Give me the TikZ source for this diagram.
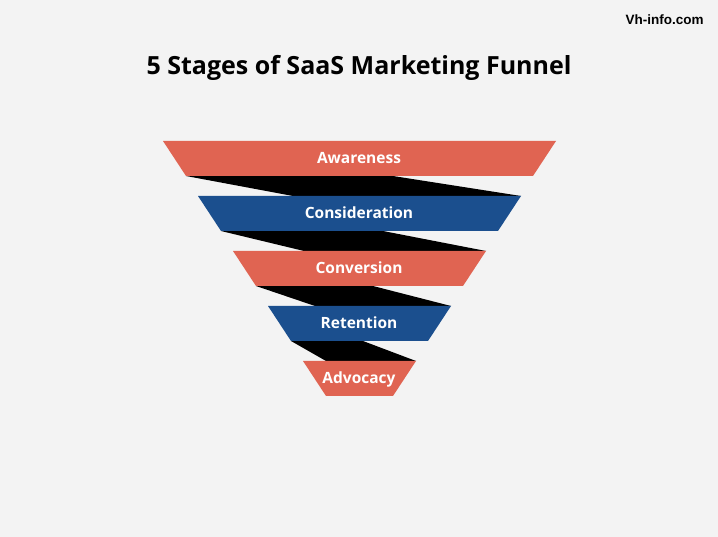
\documentclass[tikz,border=0pt]{standalone}
\usepackage{fontspec}
\setmainfont{Open Sans}
\newfontfamily\sitefont{Liberation Sans}
\usepackage{tikz}
\definecolor{funnelred}{HTML}{E06452}
\definecolor{funnelblue}{HTML}{1B4F8E}
\definecolor{paper}{HTML}{F3F3F3}
\tikzstyle{stagetext} = [text=white,font=\bfseries\fontsize{15.5}{18}\selectfont,inner sep=0pt,text height=11pt,text depth=0pt]
\tikzstyle{band}      = [fill=black]
\tikzstyle{redstage}  = [fill=funnelred]
\tikzstyle{bluestage} = [fill=funnelblue]

\begin{document}
\begin{tikzpicture}[x=1pt,y=-1pt]

\fill[paper] (0,0) rectangle (718,537);
\useasboundingbox (0,0) rectangle (718,537);

\node (site)  at (664.5,20) {\sitefont\bfseries\fontsize{13.5}{15}\selectfont Vh-info.com};
\node (title) at (359,68) {\bfseries\fontsize{25}{30}\selectfont 5 Stages of SaaS Marketing Funnel};

% black bands behind the stages
\fill[band] (186,176) -- (393,176) -- (521,196) -- (293,196) -- cycle;
\fill[band] (221,231) -- (383,231) -- (486,251) -- (304,251) -- cycle;
\fill[band] (256,286) -- (373,286) -- (451,306) -- (315,306) -- cycle;
\fill[band] (291,341) -- (363,341) -- (416,361) -- (326,361) -- cycle;

% stages
\fill[redstage]  (163,141) -- (556,141) -- (533,176) -- (186,176) -- cycle;
\fill[bluestage] (198,196) -- (521,196) -- (498,231) -- (221,231) -- cycle;
\fill[redstage]  (233,251) -- (486,251) -- (463,286) -- (256,286) -- cycle;
\fill[bluestage] (268,306) -- (451,306) -- (428,341) -- (291,341) -- cycle;
\fill[redstage]  (303,361) -- (416,361) -- (393,396) -- (326,396) -- cycle;

\node[stagetext] (awareness)     at (359,158) {Awareness};
\node[stagetext] (consideration) at (359,213) {Consideration};
\node[stagetext] (conversion)    at (359,268) {Conversion};
\node[stagetext] (retention)     at (359,323) {Retention};
\node[stagetext] (advocacy)      at (359,378) {Advocacy};

\end{tikzpicture}
\end{document}
